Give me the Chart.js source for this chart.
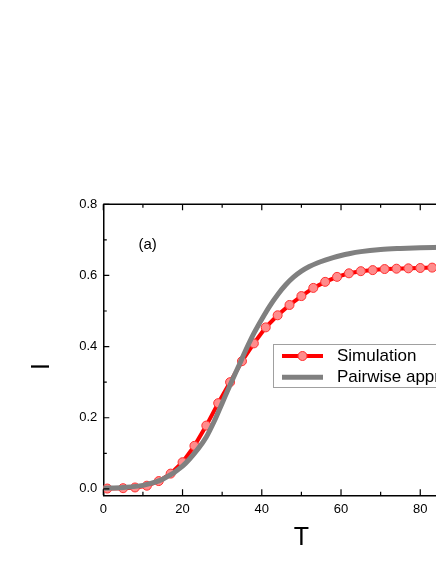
<!DOCTYPE html>
<html>
<head>
<meta charset="utf-8">
<script src="https://cdn.jsdelivr.net/npm/chart.js@4.4.1/dist/chart.umd.min.js"></script>
<style>
  html, body { margin: 0; padding: 0; background: #fff; }
  #wrap { width: 436px; height: 564px; overflow: hidden; position: relative; }
  canvas { display: block; }
</style>
</head>
<body>
<div id="wrap"><canvas id="c" width="600" height="564" style="width:600px;height:564px"></canvas></div>
<script>
// ---- data ----
const simT = [1, 5, 8, 11, 14, 17, 20, 23, 26, 29, 32, 35, 38, 41, 44, 47, 50, 53, 56, 59, 62, 65, 68, 71, 74, 77, 80, 83, 86, 89, 92, 95, 98];
const simI = [0.001, 0.002, 0.004, 0.009, 0.022, 0.043, 0.075, 0.121, 0.178, 0.241, 0.300, 0.359, 0.409, 0.454, 0.488, 0.517, 0.542, 0.565, 0.582, 0.596, 0.606, 0.612, 0.615, 0.618, 0.619, 0.620, 0.621, 0.622, 0.622, 0.622, 0.623, 0.623, 0.623];
const pairT = [0, 5, 10, 15, 20, 24, 26, 28, 30, 32, 34, 36, 38, 40, 42, 44, 46, 48, 50, 52, 54, 56, 58, 60, 62, 65, 70, 75, 80, 85, 90, 100];
const pairI = [0.002, 0.004, 0.010, 0.027, 0.064, 0.114, 0.146, 0.190, 0.241, 0.292, 0.341, 0.391, 0.437, 0.477, 0.514, 0.546, 0.573, 0.595, 0.612, 0.625, 0.635, 0.643, 0.650, 0.656, 0.661, 0.667, 0.673, 0.676, 0.678, 0.679, 0.680, 0.680];
const xTicks = [0, 20, 40, 60, 80, 100];
const xMinor = [10, 30, 50, 70, 90];
const yTicks = [0.0, 0.2, 0.4, 0.6, 0.8];
const yMinor = [0.1, 0.3, 0.5, 0.7];
const seriesNames = ['Simulation', 'Pairwise approximation'];
const xTitle = 'T';
const yTitle = 'I';
const panelLabel = '(a)';

const FONT = '"Liberation Sans", Arial, sans-serif';

const framePlugin = {
  id: 'frame',
  afterDraw(chart) {
    const {ctx, chartArea: a, scales: {x, y}} = chart;
    ctx.save();
    ctx.strokeStyle = '#000';
    ctx.lineWidth = 1.5;
    ctx.beginPath();
    ctx.moveTo(a.left, a.top); ctx.lineTo(a.right, a.top);
    ctx.moveTo(a.right, a.top); ctx.lineTo(a.right, a.bottom);
    ctx.stroke();
    ctx.lineWidth = 1.2;
    ctx.beginPath();
    const tx = (v, len) => { const p = x.getPixelForValue(v); ctx.moveTo(p, a.bottom); ctx.lineTo(p, a.bottom - len); ctx.moveTo(p, a.top); ctx.lineTo(p, a.top + len); };
    const ty = (v, len) => { const p = y.getPixelForValue(v); ctx.moveTo(a.left, p); ctx.lineTo(a.left + len, p); ctx.moveTo(a.right, p); ctx.lineTo(a.right - len, p); };
    xTicks.forEach(v => tx(v, 6)); xMinor.forEach(v => tx(v, 3.5));
    yTicks.forEach(v => ty(v, 6)); yMinor.forEach(v => ty(v, 3.5));
    ctx.stroke();

    // axis titles and panel label
    ctx.fillStyle = '#000';
    ctx.textAlign = 'center';
    ctx.textBaseline = 'middle';
    ctx.font = '25px ' + FONT;
    ctx.fillText(xTitle, (a.left + a.right) / 2, 538);
    ctx.save();
    ctx.translate(42, 366.5);
    ctx.rotate(-Math.PI / 2);
    ctx.fillText(yTitle, 0, 0);
    ctx.restore();
    ctx.textAlign = 'left';
    ctx.font = '15px ' + FONT;
    ctx.fillText(panelLabel, 138.5, 244.5);

    // legend
    const lx = 273.5, ly = 344.5, lw = 240, lh = 43;
    ctx.fillStyle = '#fff';
    ctx.fillRect(lx, ly, lw, lh);
    ctx.strokeStyle = '#a0a0a0';
    ctx.lineWidth = 1;
    ctx.strokeRect(lx, ly, lw, lh);
    const ds = chart.data.datasets;
    const rows = [356, 377.3];
    rows.forEach((ry, i) => {
      const d = ds[i];
      ctx.strokeStyle = d.borderColor;
      ctx.lineWidth = d.borderWidth;
      ctx.lineCap = 'butt';
      ctx.beginPath(); ctx.moveTo(282, ry); ctx.lineTo(323, ry); ctx.stroke();
      if (d.pointRadius > 0) {
        ctx.beginPath();
        ctx.arc(302.5, ry, d.pointRadius, 0, Math.PI * 2);
        ctx.fillStyle = d.pointBackgroundColor; ctx.fill();
        ctx.lineWidth = d.pointBorderWidth; ctx.strokeStyle = d.pointBorderColor; ctx.stroke();
      }
      ctx.fillStyle = '#000';
      ctx.font = '17px ' + FONT;
      ctx.textAlign = 'left';
      ctx.textBaseline = 'middle';
      ctx.fillText(d.label, 337, ry + 0.5);
    });
    ctx.restore();
  }
};

new Chart(document.getElementById('c'), {
  type: 'line',
  data: {
    datasets: [
      {
        label: seriesNames[0],
        data: simT.map((t, i) => ({x: t, y: simI[i]})),
        borderColor: '#ff0000',
        borderWidth: 4,
        pointRadius: 4.5,
        pointBackgroundColor: '#ff8c8c',
        pointBorderColor: '#ff3030',
        pointBorderWidth: 1,
        tension: 0,
        order: 2
      },
      {
        label: seriesNames[1],
        data: pairT.map((t, i) => ({x: t, y: pairI[i]})),
        borderColor: '#808080',
        borderWidth: 5,
        pointRadius: 0,
        cubicInterpolationMode: 'monotone',
        order: 1
      }
    ]
  },
  options: {
    responsive: false,
    animation: false,
    events: [],
    layout: { padding: { top: 204.3, right: 100.5, left: 0, bottom: 0 } },
    plugins: { legend: { display: false }, tooltip: { enabled: false } },
    scales: {
      x: {
        type: 'linear',
        min: 0, max: 100,
        grid: { display: false, drawTicks: false },
        border: { display: true, color: '#000', width: 1.5 },
        afterBuildTicks: s => { s.ticks = xTicks.map(v => ({value: v})); },
        afterFit: s => { s.height = 68.7; },
        ticks: { color: '#000', padding: 6.5, maxRotation: 0, font: { family: FONT, size: 13 }, callback: v => String(v) }
      },
      y: {
        type: 'linear',
        min: -0.018, max: 0.8,
        grid: { display: false, drawTicks: false },
        border: { display: true, color: '#000', width: 1.5 },
        afterBuildTicks: s => { s.ticks = yTicks.map(v => ({value: v})); },
        afterFit: s => { s.width = 103.3; },
        ticks: { color: '#000', padding: 6, font: { family: FONT, size: 13 }, callback: v => Number(v).toFixed(1) }
      }
    }
  },
  plugins: [framePlugin]
});
</script>
</body>
</html>
